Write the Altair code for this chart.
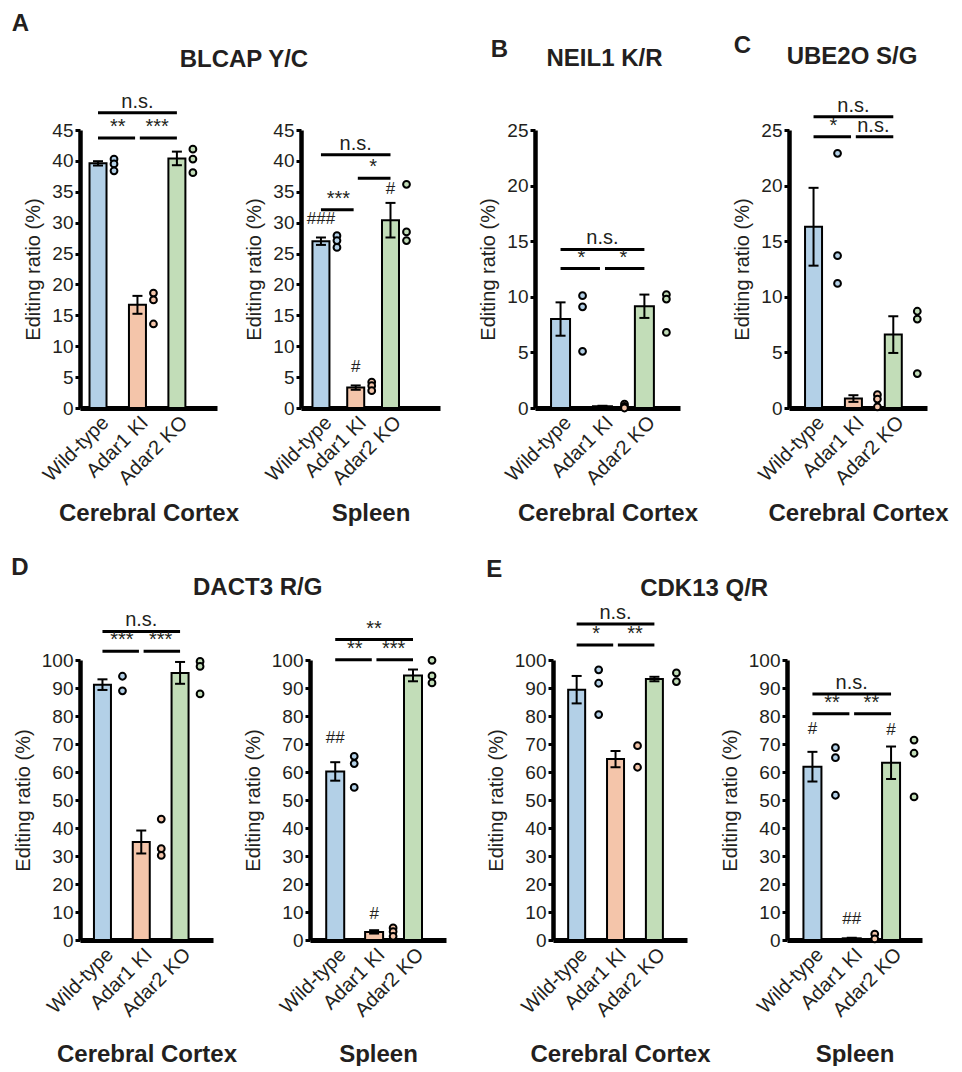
import json
import altair as alt
import pandas as pd

FONT = "Liberation Sans"
INK = "#231f20"

GROUPS = ["Wild-type", "Adar1 KI", "Adar2 KO"]
BAR_COLORS = ["#B3D0E7", "#F4C5AA", "#C2DDB8"]
Y_TITLE = "Editing ratio (%)"

# ---------------- A: BLCAP Y/C ----------------
BLCAP_CC_MEAN = [39.6, 16.7, 40.4]
BLCAP_CC_SE = [0.35, 1.45, 1.1]
BLCAP_CC_PTS = [[40.3, 39.5, 38.4], [18.6, 17.5, 13.6], [41.9, 40.3, 38.1]]
BLCAP_CC_SIG = [[0, 2, 47.8, "n.s."], [0, 1, 43.7, "**"], [1, 2, 43.7, "***"]]
BLCAP_CC_HASH = []

BLCAP_SP_MEAN = [27.0, 3.3, 30.4]
BLCAP_SP_SE = [0.6, 0.35, 2.8]
BLCAP_SP_PTS = [[27.9, 27.1, 26.0], [4.2, 3.6, 2.8], [36.2, 28.5, 27.1]]
BLCAP_SP_SIG = [[0, 2, 41.0, "n.s."], [0, 1, 32.1, "***"], [1, 2, 37.2, "*"]]
BLCAP_SP_HASH = [[0, 29.1, "###"], [1, 5.1, "#"], [2, 34.0, "#"]]

# ---------------- B: NEIL1 K/R ----------------
NEIL1_CC_MEAN = [8.0, 0.15, 9.15]
NEIL1_CC_SE = [1.5, 0.05, 1.05]
NEIL1_CC_PTS = [[10.1, 9.1, 5.1], [0.35, 0.15, 0.0], [10.2, 9.8, 6.8]]
NEIL1_CC_SIG = [[0, 2, 14.26, "n.s."], [0, 1, 12.54, "*"], [1, 2, 12.54, "*"]]
NEIL1_CC_HASH = []

# ---------------- C: UBE2O S/G ----------------
UBE2O_CC_MEAN = [16.3, 0.85, 6.6]
UBE2O_CC_SE = [3.5, 0.3, 1.65]
UBE2O_CC_PTS = [[22.9, 13.7, 11.2], [1.2, 0.8, 0.1], [8.7, 8.0, 3.1]]
UBE2O_CC_SIG = [[0, 2, 26.2, "n.s."], [0, 1, 24.4, "*"], [1, 2, 24.4, "n.s."]]
UBE2O_CC_HASH = []

# ---------------- D: DACT3 R/G ----------------
DACT3_CC_MEAN = [91.2, 35.0, 95.4]
DACT3_CC_SE = [1.9, 4.1, 3.9]
DACT3_CC_PTS = [[94.2, 89.0], [43.2, 32.6, 30.2], [99.5, 97.7, 87.9]]
DACT3_CC_SIG = [[0, 2, 110.2, "n.s."], [0, 1, 103.1, "***"], [1, 2, 103.1, "***"]]
DACT3_CC_HASH = []

DACT3_SP_MEAN = [60.2, 2.9, 94.5]
DACT3_SP_SE = [3.3, 0.6, 2.1]
DACT3_SP_PTS = [[65.6, 63.0, 54.5], [4.3, 3.0, 1.3], [99.9, 94.3, 91.8]]
DACT3_SP_SIG = [[0, 2, 107.3, "**"], [0, 1, 100.1, "**"], [1, 2, 100.1, "***"]]
DACT3_SP_HASH = [[0, 68.9, "##"], [1, 6.1, "#"]]

# ---------------- E: CDK13 Q/R ----------------
CDK13_CC_MEAN = [89.4, 64.6, 93.2]
CDK13_CC_SE = [4.9, 2.9, 0.8]
CDK13_CC_PTS = [[96.5, 91.7, 80.5], [69.4, 61.7], [95.4, 92.3]]
CDK13_CC_SIG = [[0, 2, 112.9, "n.s."], [0, 1, 105.4, "*"], [1, 2, 105.4, "**"]]
CDK13_CC_HASH = []

CDK13_SP_MEAN = [61.9, 0.6, 63.3]
CDK13_SP_SE = [5.3, 0.2, 5.8]
CDK13_SP_PTS = [[68.7, 65.1, 51.7], [2.1, 0.4], [71.4, 66.7, 51.1]]
CDK13_SP_SIG = [[0, 2, 87.9, "n.s."], [0, 1, 80.8, "**"], [1, 2, 80.8, "**"]]
CDK13_SP_HASH = [[0, 72.3, "#"], [1, 4.2, "##"], [2, 71.8, "#"]]

GAP = 0.06  # small break between neighbouring brackets (x units)


def panel(mean, se, pts, sig, hashes, ymax, ystep, xdom, pt_off, bar_w,
          W, H, xtitle, xtitle_y):
    bars = pd.DataFrame({
        "g": [0, 1, 2], "name": GROUPS, "mean": mean,
        "lo": [m - s for m, s in zip(mean, se)],
        "hi": [m + s for m, s in zip(mean, se)],
    })
    pts_df = pd.DataFrame([{"g": i, "name": GROUPS[i], "v": v}
                           for i, vs in enumerate(pts) for v in vs])
    sig_df = pd.DataFrame([{
        "x1": a + (GAP if a == 1 else 0), "x2": b - (GAP if b == 1 else 0),
        "mid": (a + b) / 2, "y": yv, "label": t} for a, b, yv, t in sig])

    xscale = alt.Scale(domain=xdom, nice=False, zero=False)
    yscale = alt.Scale(domain=[0, ymax], nice=False)
    xaxis = alt.Axis(
        values=[0, 1, 2], labelExpr=f"{json.dumps(GROUPS)}[datum.value]",
        labelAngle=-45, labelAlign="right", labelBaseline="top", labelOverlap=False,
        labelFontSize=20, labelFont=FONT, labelColor=INK, labelPadding=4,
        ticks=False, grid=False, domainColor="black", domainWidth=5,
        title=xtitle, titleFont=FONT, titleFontSize=24, titleFontWeight="bold",
        titleColor=INK, titleY=xtitle_y, titleBaseline="middle")
    yaxis = alt.Axis(
        values=list(range(0, ymax + 1, ystep)), labelFontSize=19, labelFont=FONT,
        labelColor=INK, labelPadding=2, tickSize=5, tickWidth=3, tickColor="black",
        labelOverlap=False, grid=False, domainColor="black", domainWidth=4.5,
        title=Y_TITLE, titleFont=FONT, titleFontSize=20, titleFontWeight="normal",
        titleColor=INK, titlePadding=8)

    def X(f):
        return alt.X(f, scale=xscale, axis=xaxis)

    def Y(f):
        return alt.Y(f, scale=yscale, axis=yaxis)

    fill = alt.Fill("name:N", scale=alt.Scale(domain=GROUPS, range=BAR_COLORS), legend=None)

    layers = [
        alt.Chart(bars).mark_bar(size=bar_w, stroke="black", strokeWidth=2,
                                 orient="vertical").encode(x=X("g:Q"), y=Y("mean:Q"), fill=fill),
        alt.Chart(bars).mark_rule(color="black", strokeWidth=2).encode(
            x=X("g:Q"), y=Y("lo:Q"), y2="hi:Q"),
        alt.Chart(bars).transform_fold(["lo", "hi"], as_=["k", "yv"]).mark_rule(
            color="black", strokeWidth=2, xOffset=-5, x2Offset=5).encode(
            x=X("g:Q"), x2="g:Q", y=Y("yv:Q")),
        alt.Chart(pts_df).mark_point(shape="circle", filled=True, size=46, opacity=1,
                                     stroke="black", strokeWidth=2, xOffset=pt_off).encode(
            x=X("g:Q"), y=Y("v:Q"), fill=fill),
        alt.Chart(sig_df).mark_rule(color="black", strokeWidth=3).encode(
            x=X("x1:Q"), x2="x2:Q", y=Y("y:Q")),
        alt.Chart(sig_df).mark_text(baseline="bottom", dy=-1, fontSize=20, font=FONT,
                                    color=INK).encode(x=X("mid:Q"), y=Y("y:Q"), text="label:N"),
    ]
    if hashes:
        hash_df = pd.DataFrame([{"g": g, "y": yv, "label": t} for g, yv, t in hashes])
        layers.append(alt.Chart(hash_df).mark_text(baseline="bottom", fontSize=17, font=FONT,
                                                    color=INK).encode(
            x=X("g:Q"), y=Y("y:Q"), text="label:N"))
    return alt.layer(*layers).properties(
        width=W, height=H,
        view=alt.ViewBackground(stroke="transparent", strokeWidth=0))


def gene_title(text, offset, dx=0):
    return alt.TitleParams(text, font=FONT, fontSize=24, fontWeight="bold", color=INK,
                           anchor="middle", offset=offset, dx=dx)


def letter_title(text, offset, dx=0, dy=0):
    return alt.TitleParams(text, font=FONT, fontSize=24, fontWeight="bold", color=INK,
                           anchor="start", offset=offset, dx=dx, dy=dy)


H1, H2 = 278, 280
TY1, TY2 = 105, 114

A1 = panel(BLCAP_CC_MEAN, BLCAP_CC_SE, BLCAP_CC_PTS, BLCAP_CC_SIG, BLCAP_CC_HASH,
           45, 5, [-0.33, 2.89], 16, 17, 137, H1, "Cerebral Cortex", TY1)
A2 = panel(BLCAP_SP_MEAN, BLCAP_SP_SE, BLCAP_SP_PTS, BLCAP_SP_SIG, BLCAP_SP_HASH,
           45, 5, [-0.43, 3.28], 16, 17, 139, H1, "Spleen", TY1)
B1 = panel(NEIL1_CC_MEAN, NEIL1_CC_SE, NEIL1_CC_PTS, NEIL1_CC_SIG, NEIL1_CC_HASH,
           25, 5, [-0.49, 2.73], 22, 19, 145, H1, "Cerebral Cortex", TY1)
C1 = panel(UBE2O_CC_MEAN, UBE2O_CC_SE, UBE2O_CC_PTS, UBE2O_CC_SIG, UBE2O_CC_HASH,
           25, 5, [-0.49, 2.72], 24, 17, 138, H1, "Cerebral Cortex", TY1)
D1 = panel(DACT3_CC_MEAN, DACT3_CC_SE, DACT3_CC_PTS, DACT3_CC_SIG, DACT3_CC_HASH,
           100, 10, [-0.45, 2.72], 20, 17, 133, H2, "Cerebral Cortex", TY2)
D2 = panel(DACT3_SP_MEAN, DACT3_SP_SE, DACT3_SP_PTS, DACT3_SP_SIG, DACT3_SP_HASH,
           100, 10, [-0.52, 2.72], 19, 18, 136, H2, "Spleen", TY2)
E1 = panel(CDK13_CC_MEAN, CDK13_CC_SE, CDK13_CC_PTS, CDK13_CC_SIG, CDK13_CC_HASH,
           100, 10, [-0.48, 2.71], 22, 17, 134, H2, "Cerebral Cortex", TY2)
E2 = panel(CDK13_SP_MEAN, CDK13_SP_SE, CDK13_SP_PTS, CDK13_SP_SIG, CDK13_SP_HASH,
           100, 10, [-0.52, 2.66], 23, 18, 135, H2, "Spleen", TY2)

cellA = alt.hconcat(alt.hconcat(A1, A2, spacing=5, title=gene_title("BLCAP Y/C", 20, dx=12)),
                    title=letter_title("A", 12, dx=-12))
cellB = alt.hconcat(B1.properties(title=gene_title("NEIL1 K/R", 50, dx=-3)),
                    title=letter_title("B", 12, dx=12, dy=27))
cellC = alt.hconcat(C1.properties(title=gene_title("UBE2O S/G", 27, dx=-6)),
                    title=letter_title("C", 12, dx=1, dy=25))
cellD = alt.hconcat(alt.hconcat(D1, D2, spacing=6, title=gene_title("DACT3 R/G", 10, dx=28)),
                    title=letter_title("D", 0, dx=-2, dy=4))
cellE = alt.hconcat(alt.hconcat(E1, E2, spacing=9, title=gene_title("CDK13 Q/R", 2)),
                    title=letter_title("E", 0, dx=0, dy=5))

top_row = alt.hconcat(alt.hconcat(cellA, cellB, spacing=38), cellC, spacing=34)
bottom_row = alt.hconcat(cellD, cellE, spacing=40)

chart = (
    alt.vconcat(top_row, bottom_row, spacing=31)
    .properties(padding={"left": 3, "top": 3, "right": 0, "bottom": 0})
    .configure(font=FONT)
    .configure_view(stroke="transparent", strokeWidth=0)
)

chart.save("out.html", embed_options={"renderer": "svg", "actions": False})
